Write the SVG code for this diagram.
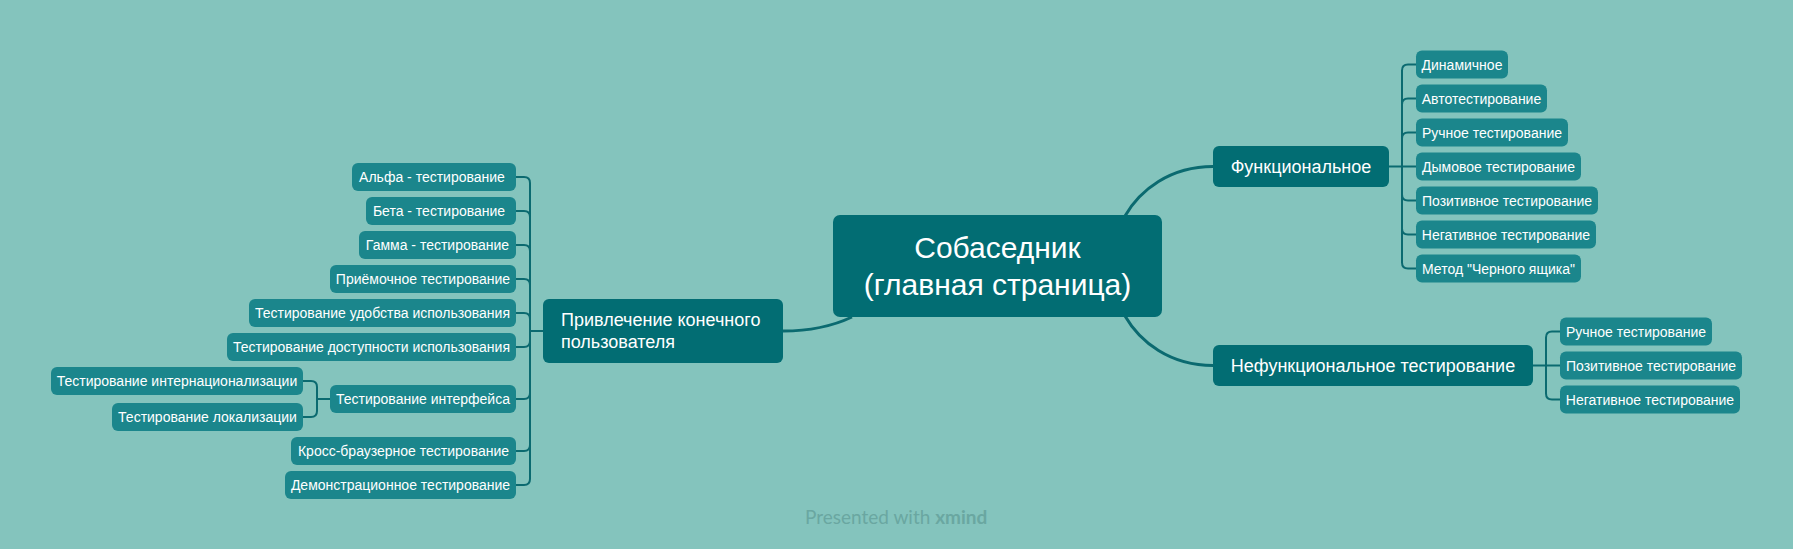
<svg xmlns="http://www.w3.org/2000/svg" width="1793" height="549" viewBox="0 0 1793 549">
<style>
.bg{fill:#84c4bd}
.main{fill:#026d73}
.sub{fill:#1b868c}
text{font-family:"Liberation Sans",Arial,sans-serif;fill:#ffffff}
.t14{font-size:14px;text-anchor:middle}
.t18{font-size:18px;text-anchor:middle}
.t17{font-size:18px}
.t28{font-size:30px;text-anchor:middle}
.con path{fill:none;stroke:#0b6a70;stroke-width:2}
.con path.thick{stroke-width:3}
.wm{font-family:Lato,"Open Sans",sans-serif;font-size:19px;fill:#6aa7a1}
</style>
<rect class="bg" x="0" y="0" width="1793" height="549"/>

<g id="connectors" class="con">
  <path class="thick" d="M1125,216 C1140,190 1170,166.5 1213,166.5"/>
  <path class="thick" d="M1125,316 C1140,342 1170,365.5 1213,365.5"/>
  <path class="thick" d="M783,331 C815,331 835,325 852,317"/>
  <path d="M543,331 H530"/>
  <path d="M530,331 V183 Q530,177 524,177 H516"/>
  <path d="M530,331 V217 Q530,211 524,211 H516"/>
  <path d="M530,331 V251 Q530,245 524,245 H516"/>
  <path d="M530,331 V285 Q530,279 524,279 H516"/>
  <path d="M530,331 V319 Q530,313 524,313 H516"/>
  <path d="M530,331 V341 Q530,347 524,347 H516"/>
  <path d="M530,331 V393 Q530,399 524,399 H516"/>
  <path d="M530,331 V445 Q530,451 524,451 H516"/>
  <path d="M530,331 V479 Q530,485 524,485 H516"/>
  <path d="M330,399 H317"/>
  <path d="M317,399 V387 Q317,381 311,381 H303"/>
  <path d="M317,399 V411 Q317,417 311,417 H303"/>
  <path d="M1389,166.5 H1402"/>
  <path d="M1402,166.5 V70.5 Q1402,64.5 1408,64.5 H1416"/>
  <path d="M1402,166.5 V104.5 Q1402,98.5 1408,98.5 H1416"/>
  <path d="M1402,166.5 V138.5 Q1402,132.5 1408,132.5 H1416"/>
  <path d="M1402,166.5 H1416"/>
  <path d="M1402,166.5 V194.5 Q1402,200.5 1408,200.5 H1416"/>
  <path d="M1402,166.5 V228.5 Q1402,234.5 1408,234.5 H1416"/>
  <path d="M1402,166.5 V262.5 Q1402,268.5 1408,268.5 H1416"/>
  <path d="M1533,365.5 H1546"/>
  <path d="M1546,365.5 V337.5 Q1546,331.5 1552,331.5 H1560"/>
  <path d="M1546,365.5 H1560"/>
  <path d="M1546,365.5 V393.5 Q1546,399.5 1552,399.5 H1560"/>
</g>

<g id="root">
  <rect class="main" x="833" y="215" width="329" height="102" rx="7"/>
  <text class="t28" x="997.5" y="258">Собаседник</text>
  <text class="t28" x="997.5" y="295">(главная страница)</text>
</g>

<g id="n-privlechenie">
  <rect class="main" x="543" y="299" width="240" height="64" rx="6"/>
  <text class="t17" x="561" y="326">Привлечение конечного</text>
  <text class="t17" x="561" y="348">пользователя</text>
</g>

<g id="n-alpha"><rect class="sub" x="352" y="163" width="164" height="28" rx="6"/><text class="t14" x="432" y="182">Альфа - тестирование</text></g>
<g id="n-beta"><rect class="sub" x="366" y="197" width="150" height="28" rx="6"/><text class="t14" x="439" y="216">Бета - тестирование</text></g>
<g id="n-gamma"><rect class="sub" x="359" y="231" width="157" height="28" rx="6"/><text class="t14" x="437.5" y="250">Гамма - тестирование</text></g>
<g id="n-priem"><rect class="sub" x="330" y="265" width="186" height="28" rx="6"/><text class="t14" x="423" y="284">Приёмочное тестирование</text></g>
<g id="n-udob"><rect class="sub" x="249" y="299" width="267" height="28" rx="6"/><text class="t14" x="382.5" y="318">Тестирование удобства использования</text></g>
<g id="n-dostup"><rect class="sub" x="227" y="333" width="289" height="28" rx="6"/><text class="t14" x="371.5" y="352">Тестирование доступности использования</text></g>
<g id="n-interface"><rect class="sub" x="330" y="385" width="186" height="28" rx="6"/><text class="t14" x="423" y="404">Тестирование интерфейса</text></g>
<g id="n-i18n"><rect class="sub" x="51" y="367" width="252" height="28" rx="6"/><text class="t14" x="177" y="386">Тестирование интернационализации</text></g>
<g id="n-l10n"><rect class="sub" x="112" y="403" width="191" height="28" rx="6"/><text class="t14" x="207.5" y="422">Тестирование локализации</text></g>
<g id="n-cross"><rect class="sub" x="291" y="437" width="225" height="28" rx="6"/><text class="t14" x="403.5" y="456">Кросс-браузерное тестирование</text></g>
<g id="n-demo"><rect class="sub" x="285" y="471" width="231" height="28" rx="6"/><text class="t14" x="400.5" y="490">Демонстрационное тестирование</text></g>

<g id="n-functional">
  <rect class="main" x="1213" y="146" width="176" height="41" rx="6"/>
  <text class="t18" x="1301" y="172.8">Функциональное</text>
</g>
<g id="n-dinam"><rect class="sub" x="1416" y="50.5" width="92" height="28" rx="6"/><text class="t14" x="1462" y="69.5">Динамичное</text></g>
<g id="n-auto"><rect class="sub" x="1416" y="84.5" width="131" height="28" rx="6"/><text class="t14" x="1481.5" y="103.5">Автотестирование</text></g>
<g id="n-manual1"><rect class="sub" x="1416" y="118.5" width="152" height="28" rx="6"/><text class="t14" x="1492" y="137.5">Ручное тестирование</text></g>
<g id="n-smoke"><rect class="sub" x="1416" y="152.5" width="165" height="28" rx="6"/><text class="t14" x="1498.5" y="171.5">Дымовое тестирование</text></g>
<g id="n-pos1"><rect class="sub" x="1416" y="186.5" width="182" height="28" rx="6"/><text class="t14" x="1507" y="205.5">Позитивное тестирование</text></g>
<g id="n-neg1"><rect class="sub" x="1416" y="220.5" width="180" height="28" rx="6"/><text class="t14" x="1506" y="239.5">Негативное тестирование</text></g>
<g id="n-blackbox"><rect class="sub" x="1416" y="254.5" width="165" height="28" rx="6"/><text class="t14" x="1498.5" y="273.5">Метод "Черного ящика"</text></g>

<g id="n-nonfunctional">
  <rect class="main" x="1213" y="345" width="320" height="41" rx="6"/>
  <text class="t18" x="1373" y="371.8">Нефункциональное тестирование</text>
</g>
<g id="n-manual2"><rect class="sub" x="1560" y="317.5" width="152" height="28" rx="6"/><text class="t14" x="1636" y="336.5">Ручное тестирование</text></g>
<g id="n-pos2"><rect class="sub" x="1560" y="351.5" width="182" height="28" rx="6"/><text class="t14" x="1651" y="370.5">Позитивное тестирование</text></g>
<g id="n-neg2"><rect class="sub" x="1560" y="385.5" width="180" height="28" rx="6"/><text class="t14" x="1650" y="404.5">Негативное тестирование</text></g>

<text class="wm" x="805" y="524">Presented with <tspan font-weight="bold">xmind</tspan></text>
</svg>
